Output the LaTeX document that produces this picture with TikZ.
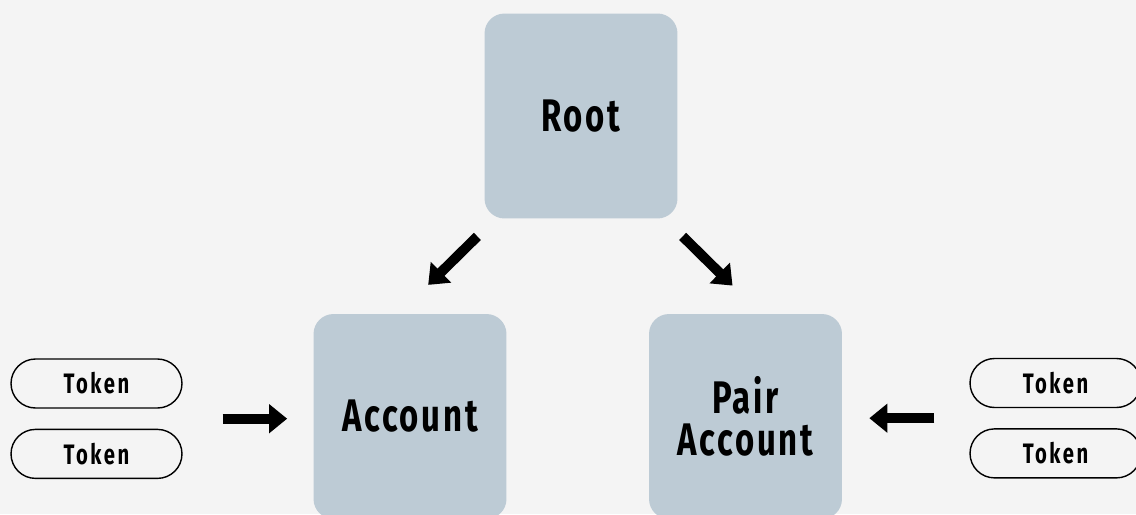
\documentclass[tikz,border=0pt]{standalone}
\usepackage{fontspec}
\usepackage{tikz}
\usetikzlibrary{arrows.meta,calc,positioning}
\newfontfamily\blkfont{Fira Sans}[FakeStretch=0.72,LetterSpace=6]
\newfontfamily\tokfont{Fira Sans}[FakeStretch=0.72,LetterSpace=9]
\definecolor{boxblue}{RGB}{189,203,213}
\definecolor{paper}{RGB}{244,244,244}

\begin{document}
\begin{tikzpicture}[x=0.02cm,y=-0.02cm,
    blk/.style={fill=boxblue,rounded corners=0.4cm,minimum width=3.86cm,minimum height=4.1cm,
      inner sep=0pt,align=center,font=\blkfont\bfseries\fontsize{26}{24}\selectfont},
    tok/.style={draw,line width=0.8pt,rounded corners=0.49cm,minimum width=3.42cm,minimum height=0.98cm,
      inner sep=0pt,font=\tokfont\bfseries\fontsize{16}{18}\selectfont},
    fat/.style={line width=0.2cm,-{Triangle[length=0.36cm,width=0.56cm]}}]
  \fill[paper] (0,0) rectangle (1136,514);
  \useasboundingbox (0,0) rectangle (1136,514);
  \clip (0,0) rectangle (1136,514);

  % the three accounts
  \node[blk] (root) at (581,116)   {Root};
  \node[blk] (acct) at (410,416.5) {Account};
  \node[blk] (pair) at (745.5,416.5) {Pair\\Account};

  % tokens
  \node[tok] (tokA1) at (96.5,383.5) {Token};
  \node[tok] (tokA2) [below=0.4cm of tokA1] {Token};
  \node[tok] (tokP1) at (1055.5,383) {Token};
  \node[tok] (tokP2) [below=0.4cm of tokP1] {Token};

  \coordinate (tokA) at ($(tokA1.east)!0.5!(tokA2.east)$);
  \coordinate (tokP) at ($(tokP1.west)!0.5!(tokP2.west)$);

  % arrows
  \draw[fat,shorten <=0.5cm,shorten >=0.82cm] ([xshift=0.22cm]root.south west) -- ([xshift=-0.22cm]acct.north);
  \draw[fat,shorten <=0.5cm,shorten >=0.8cm] ([xshift=-0.26cm]root.south east) -- ([xshift=0.31cm]pair.north);
  \draw[fat,shorten <=0.8cm,shorten >=0.52cm] (tokA) -- (acct.west |- tokA);
  \draw[fat,shorten <=0.7cm,shorten >=0.54cm] (tokP) -- (pair.east |- tokP);
\end{tikzpicture}
\end{document}
